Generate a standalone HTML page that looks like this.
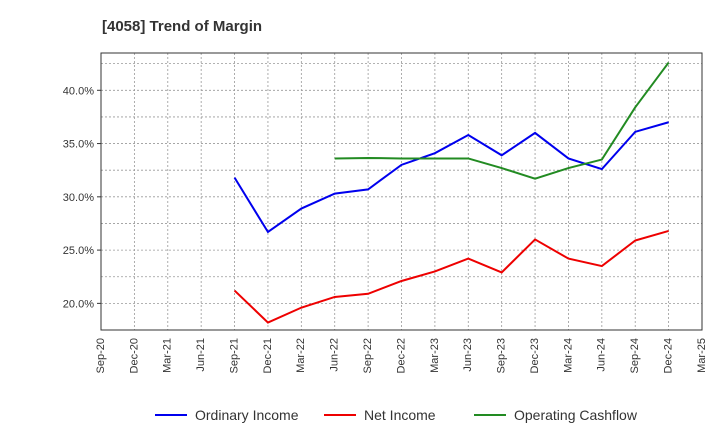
<!DOCTYPE html>
<html><head><meta charset="utf-8"><style>
body{margin:0;background:#fff;font-family:"Liberation Sans",sans-serif;}
</style></head><body>
<svg id="c" width="720" height="440" xmlns="http://www.w3.org/2000/svg">
<text x="102" y="31" font-size="15" font-weight="bold" fill="#333">[4058]  Trend of Margin</text>
<g id="grid"></g><g id="axes"></g><g id="series"></g>
<g id="legend"></g>
</svg>
<script>
const categories=["Sep-20","Dec-20","Mar-21","Jun-21","Sep-21","Dec-21","Mar-22","Jun-22","Sep-22","Dec-22","Mar-23","Jun-23","Sep-23","Dec-23","Mar-24","Jun-24","Sep-24","Dec-24","Mar-25"];
const yTicks=[20,25,30,35,40];
const yTickLabels=["20.0%","25.0%","30.0%","35.0%","40.0%"];
const ordinaryIncome=[null,null,null,null,31.8,26.7,28.9,30.3,30.7,33.0,34.1,35.8,33.9,36.0,33.6,32.6,36.1,37.0,null];
const netIncome=[null,null,null,null,21.2,18.2,19.6,20.6,20.9,22.1,23.0,24.2,22.9,26.0,24.2,23.5,25.9,26.8,null];
const operatingCashflow=[null,null,null,null,null,null,null,33.6,33.65,33.6,33.6,33.6,32.7,31.7,32.7,33.5,38.4,42.6,null];
const seriesNames=["Ordinary Income","Net Income","Operating Cashflow"];
const colors=["#0000ee","#ee0000","#228b22"];
const L=101,R=702,T=53,B=330,yMin=17.5,yMax=43.5;
const xS=i=>L+i*(R-L)/(categories.length-1);
const yS=v=>B-(v-yMin)/(yMax-yMin)*(B-T);
const NS="http://www.w3.org/2000/svg";
function mk(tag,attrs,parent){const e=document.createElementNS(NS,tag);for(const k in attrs)e.setAttribute(k,attrs[k]);parent.appendChild(e);return e;}
const grid=document.getElementById('grid'),axes=document.getElementById('axes'),ser=document.getElementById('series'),leg=document.getElementById('legend');
categories.forEach((c,i)=>{
  const x=xS(i);
  const g=mk('line',{x1:x,x2:x,y1:T,y2:B,stroke:'#999','stroke-dasharray':'2,2','stroke-width':0.8},grid);
  
  
  const t=mk('text',{x:x,y:B+8,'font-size':11,fill:'#333','text-anchor':'end',transform:`rotate(-90 ${x} ${B+8})`,'dominant-baseline':'middle'},axes);
  t.textContent=c;
  
  
});
for(let v=17.5;v<=43.5;v+=2.5){
  const y=yS(v);
  const g=mk('line',{x1:L,x2:R,y1:y,y2:y,stroke:'#999','stroke-dasharray':'2,2','stroke-width':0.8},grid);
  
  
}
yTicks.forEach((v,i)=>{
  const y=yS(v);
  mk('line',{x1:L-4,x2:L,y1:y,y2:y,stroke:'#333'},axes);
  const t=mk('text',{x:L-7,y:y+4,'font-size':11,fill:'#333','text-anchor':'end'},axes);
  t.textContent=yTickLabels[i];
  
  
});
const fr=mk('rect',{x:L,y:T,width:R-L,height:B-T,fill:'none',stroke:'#333','stroke-width':1},axes);


[ordinaryIncome,netIncome,operatingCashflow].forEach((d,s)=>{
  const pts=[];d.forEach((v,i)=>{if(v!=null)pts.push(xS(i)+','+yS(v));});
  const p=mk('polyline',{points:pts.join(' '),fill:'none',stroke:colors[s],'stroke-width':2},ser);
  
  
});
const lx=[155,324,474];
seriesNames.forEach((n,s)=>{
  const l=mk('line',{x1:lx[s],x2:lx[s]+32,y1:415,y2:415,stroke:colors[s],'stroke-width':2},leg);
  
  
  const t=mk('text',{x:lx[s]+40,y:420,'font-size':14,fill:'#333'},leg);
  t.textContent=n;
  
  
});
</script>
</body></html>
